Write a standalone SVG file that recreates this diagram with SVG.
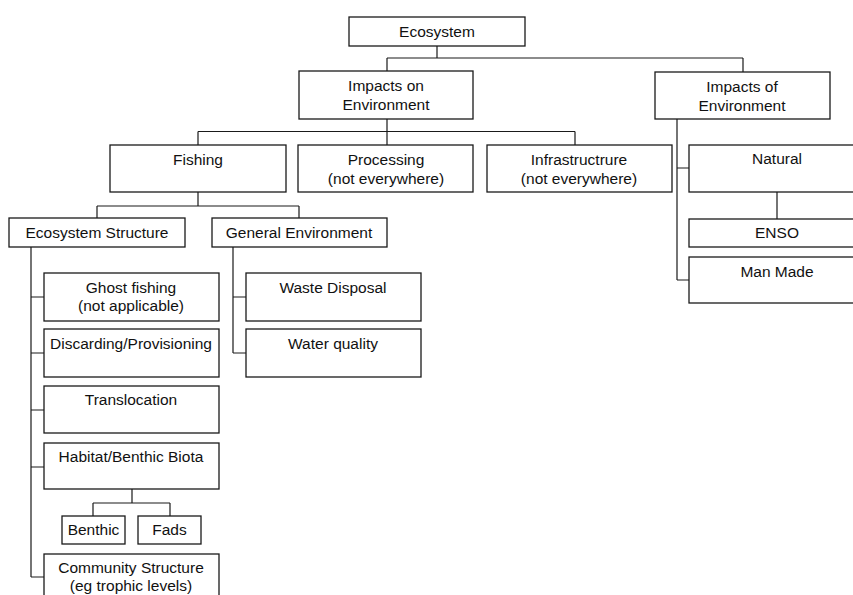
<svg xmlns="http://www.w3.org/2000/svg" width="853" height="595" viewBox="0 0 853 595">
<style>
.b{fill:#fff;stroke:#1a1a1a;stroke-width:1.3}
.c{fill:none;stroke:#1a1a1a;stroke-width:1.2}
text{font-family:"Liberation Sans",Arial,sans-serif;font-size:15.5px;fill:#111;text-anchor:middle}
</style>
<rect width="853" height="595" fill="#fff"/>
<g id="connectors" class="c">
<path d="M437 46V58M387 58H743M387 58V71M743 58V72"/>
<path d="M387 119V131.5M198 131.5H575M198 131.5V145M387 131.5V145M575 131.5V145"/>
<path d="M677 119V280M677 168H689M677 280H689M777 192V219"/>
<path d="M198 192V206M97 206H299M97 206V218M299 206V218"/>
<path d="M31 247V577M31 297H44M31 353H44M31 410H44M31 467H44M31 577H44"/>
<path d="M233 247V353M233 297H246M233 353H246"/>
<path d="M132 489V503M93 503H170M93 503V516M170 503V516"/>
</g>
<g id="ecosystem"><rect class="b" x="349" y="17" width="176" height="29"/><text x="437" y="37">Ecosystem</text></g>
<g id="impacts-on"><rect class="b" x="299" y="71" width="174" height="48"/><text x="386" y="91">Impacts on</text><text x="386" y="110">Environment</text></g>
<g id="impacts-of"><rect class="b" x="655" y="72" width="175" height="47"/><text x="742" y="92">Impacts of</text><text x="742" y="111">Environment</text></g>
<g id="fishing"><rect class="b" x="110" y="145" width="176" height="47"/><text x="198" y="165">Fishing</text></g>
<g id="processing"><rect class="b" x="298" y="145" width="175" height="47"/><text x="386" y="165">Processing</text><text x="386" y="184">(not everywhere)</text></g>
<g id="infrastructure"><rect class="b" x="487" y="145" width="185" height="47"/><text x="579" y="165">Infrastructrure</text><text x="579" y="184">(not everywhere)</text></g>
<g id="natural"><rect class="b" x="689" y="145" width="180" height="47"/><text x="777" y="164">Natural</text></g>
<g id="enso"><rect class="b" x="689" y="219" width="180" height="28"/><text x="777" y="238">ENSO</text></g>
<g id="man-made"><rect class="b" x="689" y="257" width="180" height="46"/><text x="777" y="277">Man Made</text></g>
<g id="ecosystem-structure"><rect class="b" x="9" y="218" width="176" height="29"/><text x="97" y="238">Ecosystem Structure</text></g>
<g id="general-environment"><rect class="b" x="212" y="218" width="175" height="29"/><text x="299" y="238">General Environment</text></g>
<g id="ghost-fishing"><rect class="b" x="44" y="273" width="175" height="48"/><text x="131" y="293">Ghost fishing</text><text x="131" y="311">(not applicable)</text></g>
<g id="discarding"><rect class="b" x="44" y="329" width="175" height="48"/><text x="131" y="349">Discarding/Provisioning</text></g>
<g id="translocation"><rect class="b" x="44" y="386" width="175" height="47"/><text x="131" y="405">Translocation</text></g>
<g id="habitat"><rect class="b" x="44" y="443" width="175" height="46"/><text x="131" y="462">Habitat/Benthic Biota</text></g>
<g id="benthic"><rect class="b" x="62" y="516" width="63" height="28"/><text x="93.5" y="535">Benthic</text></g>
<g id="fads"><rect class="b" x="138" y="516" width="63" height="28"/><text x="169.5" y="535">Fads</text></g>
<g id="community-structure"><rect class="b" x="44" y="554" width="175" height="50"/><text x="131" y="573">Community Structure</text><text x="131" y="591">(eg trophic levels)</text></g>
<g id="waste-disposal"><rect class="b" x="246" y="273" width="175" height="48"/><text x="333" y="293">Waste Disposal</text></g>
<g id="water-quality"><rect class="b" x="246" y="329" width="175" height="48"/><text x="333" y="349">Water quality</text></g>
</svg>
